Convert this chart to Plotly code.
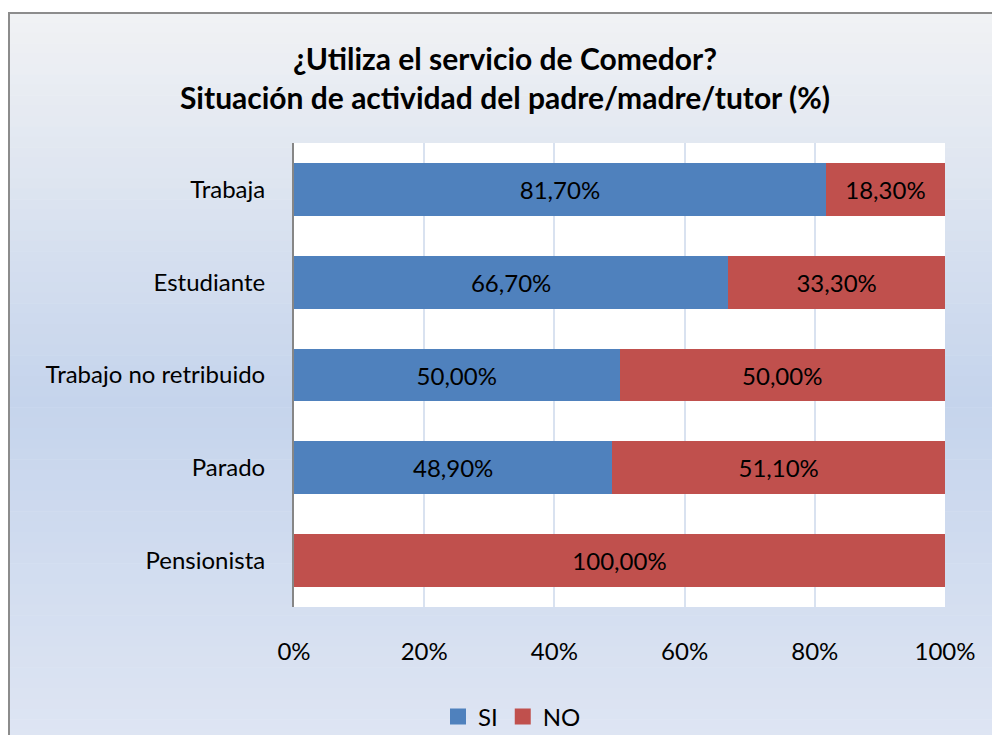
import plotly.graph_objects as go

categories = ["Trabaja", "Estudiante", "Trabajo no retribuido", "Parado", "Pensionista"]
si_values = [81.7, 66.7, 50.0, 48.9, 0.0]
no_values = [18.3, 33.3, 50.0, 51.1, 100.0]
x_ticks = [0, 20, 40, 60, 80, 100]
x_tick_labels = [f"{v}%" for v in x_ticks]
series_names = ["SI", "NO"]
series_colors = ["#4F81BD", "#C0504D"]

title_l1 = "¿Utiliza el servicio de Comedor?"
title_l2 = "Situación de actividad del padre/madre/tutor (%)"

W, H = 992, 735
L, R, T, B = 294, 945, 143, 607  # plot area pixels

FONT = "Lato"
FS = 24

def fmt(v):
    return (f"{v:.2f}".replace(".", ",") + "%") if v > 0 else ""

fig = go.Figure()
for name, vals, col in zip(series_names, [si_values, no_values], series_colors):
    fig.add_trace(go.Bar(
        y=categories, x=vals, name=name, orientation="h",
        marker=dict(color=col, line=dict(width=0)),
        text=[fmt(v) for v in vals], textposition="inside",
        insidetextanchor="middle", textfont=dict(color="#000000", size=FS, family=FONT),
        width=0.57, showlegend=False, legendgroup=name, hoverinfo="skip",
    ))
# legend entries with larger square swatches
for name, col in zip(series_names, series_colors):
    fig.add_trace(go.Scatter(
        x=[None], y=[None], mode="markers", name=name, legendgroup=name,
        marker=dict(symbol="square", size=16, color=col, line=dict(width=0)),
        showlegend=True,
    ))

def px(x):
    return (x - L) / (R - L)

def py(y):
    return (B - y) / (B - T)

def lerp(c1, c2, t):
    return tuple(round(a + (b - a) * t) for a, b in zip(c1, c2))

stops = [(12, (0xF1, 0xF2, 0xF4)), (400, (0xC5, 0xD4, 0xEC)), (735, (0xDE, 0xE5, 0xF3))]
shapes = []
n = 70
y_start, y_end = 12, 740
for i in range(n):
    y0 = y_start + (y_end - y_start) * i / n
    y1 = y_start + (y_end - y_start) * (i + 1) / n
    ym = min((y0 + y1) / 2, 735)
    for (a, ca), (b, cb) in zip(stops[:-1], stops[1:]):
        if a <= ym <= b:
            c = lerp(ca, cb, (ym - a) / (b - a))
            break
    shapes.append(dict(type="rect", xref="paper", yref="paper", layer="below",
                       x0=px(8), x1=px(1000), y0=py(y1 + 0.5), y1=py(y0),
                       fillcolor="rgb(%d,%d,%d)" % c, line=dict(width=0)))
# chart border (top and left visible)
shapes.append(dict(type="rect", xref="paper", yref="paper", layer="below",
                   x0=px(9), x1=px(1010), y0=py(760), y1=py(13),
                   fillcolor="rgba(0,0,0,0)", line=dict(color="#8C8C8C", width=2)))
# plot area white
shapes.append(dict(type="rect", xref="paper", yref="paper", layer="below",
                   x0=0, x1=1, y0=0, y1=1, fillcolor="#FFFFFF", line=dict(width=0)))

fig.update_layout(
    width=W, height=H,
    barmode="stack",
    separators=",.",
    paper_bgcolor="#FFFFFF",
    plot_bgcolor="#FFFFFF",
    margin=dict(l=L, r=W - R, t=T, b=H - B, pad=0),
    font=dict(family=FONT, size=FS, color="#000000"),
    title=dict(
        text="<b>" + title_l1 + "<br>" + title_l2 + "</b>",
        x=505 / W, xanchor="center", xref="container",
        y=1 - 70 / H, yanchor="middle", yref="container",
        font=dict(family=FONT, size=30, color="#000000"),
    ),
    xaxis=dict(
        range=[0, 100], tickmode="array", tickvals=x_ticks, ticktext=x_tick_labels,
        showgrid=True, gridcolor="#D9E2F0", gridwidth=1.5,
        zeroline=False, showline=False, ticks="",
        ticklabelstandoff=28, tickfont=dict(size=FS, family=FONT),
        fixedrange=True,
    ),
    yaxis=dict(
        categoryorder="array", categoryarray=categories, autorange="reversed",
        showline=True, linecolor="#868686", linewidth=2,
        showgrid=False, ticks="", ticklabelstandoff=22,
        tickfont=dict(size=FS, family=FONT), fixedrange=True,
    ),
    legend=dict(
        orientation="h", xref="container", yref="container",
        x=512 / W, xanchor="center", y=1 - 717 / H, yanchor="middle",
        font=dict(size=FS, family=FONT), bgcolor="rgba(0,0,0,0)",
        itemwidth=30, traceorder="normal", itemclick=False, itemdoubleclick=False,
    ),
    shapes=shapes,
    showlegend=True,
    hovermode=False,
)

fig.write_html(
    "out.html",
    config={"displayModeBar": False, "staticPlot": False},
    post_script="document.body.style.margin='0';document.body.style.overflow='hidden';",
)
